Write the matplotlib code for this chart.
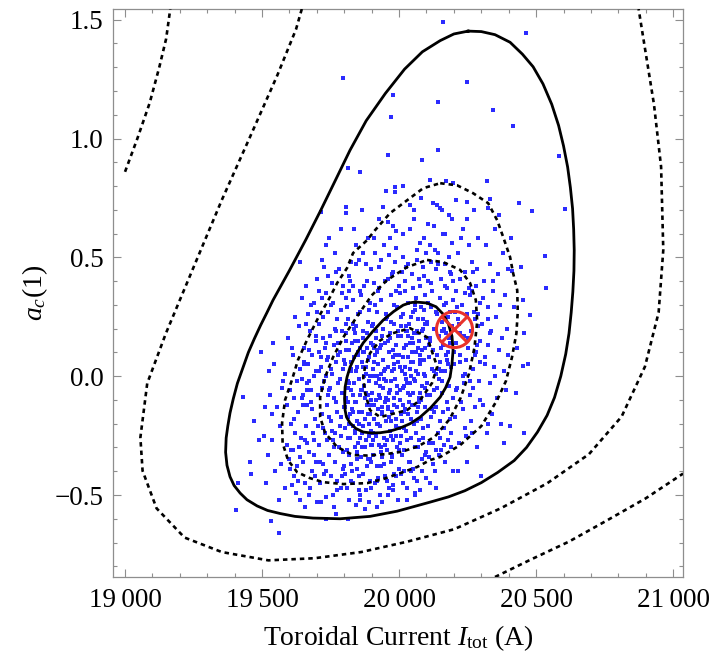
import matplotlib
matplotlib.use('Agg')
import matplotlib.pyplot as plt
from matplotlib.ticker import MultipleLocator, FuncFormatter

plt.rcParams['font.family'] = ['Liberation Serif', 'DejaVu Serif']
plt.rcParams['mathtext.fontset'] = 'custom'
plt.rcParams['mathtext.rm'] = 'Liberation Serif'
plt.rcParams['mathtext.it'] = 'Liberation Serif:italic'

# best fit point (toroidal current, a_c(1))
best_x = 20200
best_y = 0.2

# posterior samples
sample_x = [
    # 19400 - 19500
    19404, 19412, 19431, 19455, 19470, 19488, 19495, 19460,
    # 19500 - 19600
    19511, 19540, 19507, 19529, 19555, 19536, 19531, 19562, 19520, 19548,
    19572, 19585, 19590, 19577, 19566, 19598, 19515, 19583, 19545, 19594,
    19560, 19525, 19592, 19570, 19538,
    # 19600 - 19700
    19613, 19620, 19628, 19646, 19602, 19664, 19649, 19605, 19612, 19618,
    19624, 19631, 19637, 19642, 19648, 19653, 19657, 19661, 19667, 19672,
    19676, 19680, 19684, 19688, 19692, 19696, 19608, 19615, 19626, 19634,
    19640, 19651, 19659, 19663, 19670, 19674, 19682, 19686, 19690, 19698,
    19603, 19622, 19644, 19655, 19666, 19678, 19694, 19639, 19699, 19635,
    # 19700 - 19800
    19716, 19735, 19726, 19703, 19706, 19709, 19711, 19714, 19718, 19720,
    19722, 19725, 19728, 19730, 19733, 19736, 19738, 19741, 19743, 19745,
    19748, 19750, 19752, 19755, 19757, 19759, 19761, 19763, 19766, 19768,
    19770, 19772, 19775, 19777, 19779, 19781, 19784, 19786, 19788, 19790,
    19793, 19795, 19797, 19799, 19704, 19708, 19712, 19717, 19721, 19727,
    19732, 19737, 19742, 19746, 19751, 19756, 19760, 19765, 19769, 19774,
    19778, 19783, 19787, 19792, 19796, 19798, 19744, 19767, 19789, 19702,
    19762, 19734, 19794,
    # 19800 - 19900
    19807, 19807, 19813, 19801, 19803, 19804, 19806, 19808, 19810, 19811,
    19813, 19815, 19816, 19818, 19820, 19821, 19823, 19825, 19826, 19828,
    19830, 19831, 19833, 19835, 19836, 19838, 19840, 19841, 19843, 19845,
    19846, 19848, 19850, 19851, 19853, 19855, 19856, 19858, 19860, 19861,
    19863, 19865, 19866, 19868, 19870, 19871, 19873, 19875, 19876, 19878,
    19880, 19881, 19883, 19885, 19886, 19888, 19890, 19891, 19893, 19895,
    19896, 19898, 19899, 19802, 19805, 19809, 19812, 19817, 19819, 19822,
    19827, 19829, 19832, 19837, 19839, 19842, 19847, 19849, 19852, 19857,
    19859, 19862, 19867, 19869, 19872, 19874, 19877, 19879, 19882, 19884,
    19887, 19889, 19892, 19894, 19897, 19834, 19852, 19864, 19887, 19824,
    19812, 19844, 19892, 19857,
    # 19900 - 20000
    19977, 19969, 19984, 19985, 19901, 19902, 19904, 19905, 19907, 19908,
    19910, 19911, 19913, 19914, 19916, 19917, 19919, 19920, 19922, 19923,
    19925, 19926, 19928, 19929, 19931, 19932, 19934, 19935, 19937, 19938,
    19940, 19941, 19943, 19944, 19946, 19947, 19949, 19950, 19952, 19953,
    19955, 19956, 19958, 19959, 19961, 19962, 19964, 19965, 19967, 19968,
    19970, 19971, 19973, 19974, 19976, 19977, 19979, 19980, 19982, 19983,
    19985, 19986, 19988, 19989, 19991, 19992, 19994, 19995, 19997, 19998,
    19903, 19906, 19909, 19912, 19915, 19918, 19921, 19924, 19927, 19930,
    19933, 19936, 19939, 19942, 19945, 19948, 19951, 19954, 19957, 19960,
    19963, 19966, 19969, 19972, 19975, 19978, 19981, 19984, 19987, 19990,
    19993, 19996, 19999, 19911, 19928, 19953, 19964, 19990, 19923, 19979,
    19961,
    # 20000 - 20100
    20001, 20002, 20004, 20005, 20007, 20008, 20010, 20011, 20013, 20014,
    20016, 20017, 20019, 20020, 20022, 20023, 20025, 20026, 20028, 20029,
    20031, 20032, 20034, 20035, 20037, 20038, 20040, 20041, 20043, 20044,
    20046, 20047, 20049, 20050, 20052, 20053, 20055, 20056, 20058, 20059,
    20061, 20062, 20064, 20065, 20067, 20068, 20070, 20071, 20073, 20074,
    20076, 20077, 20079, 20080, 20082, 20083, 20085, 20086, 20088, 20089,
    20091, 20092, 20094, 20095, 20097, 20098, 20003, 20006, 20009, 20012,
    20015, 20018, 20021, 20024, 20027, 20030, 20033, 20036, 20039, 20042,
    20045, 20048, 20051, 20054, 20057, 20060, 20063, 20066, 20069, 20072,
    20075, 20078, 20081, 20084, 20087, 20090, 20093, 20096, 20099, 20058,
    20013,
    # 20100 - 20200
    20159, 20143, 20111, 20198, 20125, 20150, 20101, 20103, 20104, 20106,
    20108, 20109, 20111, 20113, 20114, 20116, 20118, 20119, 20121, 20123,
    20124, 20126, 20128, 20129, 20131, 20133, 20134, 20136, 20138, 20139,
    20141, 20143, 20144, 20146, 20148, 20149, 20151, 20153, 20154, 20156,
    20158, 20159, 20161, 20163, 20164, 20166, 20168, 20169, 20171, 20173,
    20174, 20176, 20178, 20179, 20181, 20183, 20184, 20186, 20188, 20189,
    20191, 20193, 20194, 20196, 20198, 20199, 20107, 20117, 20127, 20137,
    20147, 20157, 20167, 20177, 20187, 20197, 20112, 20142, 20172, 20192,
    20135,
    # 20200 - 20300
    20247, 20249, 20202, 20204, 20207, 20209, 20212, 20214, 20217, 20219,
    20222, 20224, 20227, 20229, 20232, 20234, 20237, 20239, 20242, 20244,
    20247, 20249, 20252, 20254, 20257, 20259, 20262, 20264, 20267, 20269,
    20272, 20274, 20277, 20279, 20282, 20284, 20287, 20289, 20292, 20294,
    20297, 20299, 20206, 20216, 20226, 20236, 20246, 20256, 20266, 20276,
    20286, 20296, 20211, 20241, 20271, 20221,
    # 20300 - 20400
    20342, 20332, 20325, 20302, 20305, 20309, 20312, 20316, 20319, 20323,
    20326, 20330, 20333, 20337, 20340, 20344, 20347, 20351, 20354, 20358,
    20361, 20365, 20368, 20372, 20375, 20379, 20382, 20386, 20389, 20393,
    20396, 20399, 20321, 20363, 20384,
    # above 20400
    20416, 20464, 20583, 20605, 20486, 20439, 20532, 20535, 20413, 20451,
    20478, 20456, 20452, 20405, 20456, 20430, 20420, 20445, 20410, 20470,
    20425,
    # dense core
    19812, 19826, 19838, 19851, 19863, 19877, 19889, 19902, 19914, 19927,
    19939, 19952, 19964, 19977, 19989, 20002, 20014, 20027, 20039, 20052,
    20064, 20077, 20089, 20102, 20114, 20127, 20139, 20152, 20164, 20177,
    19818, 19832, 19845, 19857, 19870, 19883, 19895, 19908, 19920, 19933,
    19945, 19958, 19971, 19983, 19996, 20008, 20021, 20033, 20046, 20058,
    20071, 20083, 20096, 20108, 20121, 20133, 20146, 20158, 20171, 20183,
    19855, 19868, 19881, 19893, 19906, 19918, 19931, 19943, 19956, 19968,
    19981, 19993, 20006, 20018, 20031, 20043, 20056, 20068, 20081, 20093,
    19873, 19897, 19921, 19946, 19970, 19994, 20019, 20043, 20067, 20091,
    19886, 19910, 19934, 19958, 19982, 20006, 20030, 20054, 20078, 20102,
    # lower left band
    19605, 19618, 19631, 19644, 19657, 19670, 19683, 19696, 19709, 19722,
    19735, 19748, 19761, 19774, 19787, 19800, 19813, 19826, 19839, 19611,
    19637, 19663, 19689, 19715, 19741, 19767, 19793, 19819, 19845, 19652,
    # lower middle band
    19852, 19866, 19879, 19893, 19906, 19920, 19933, 19947, 19960, 19974,
    19987, 20001, 20014, 20028, 20041, 20055, 20068, 20082, 20095, 20109,
    20122, 20136, 20149, 19859, 19899, 19939, 19979, 20019, 20059, 20099,
    # right band
    20152, 20161, 20170, 20179, 20188, 20197, 20206, 20215, 20224, 20233,
    20242, 20251, 20260, 20269, 20278, 20287, 20296, 20305, 20314, 20323,
    20332, 20341, 20350, 20165, 20205, 20245, 20285, 20325, 20185, 20265,
    # upper band
    19805, 19818, 19831, 19844, 19857, 19870, 19883, 19896, 19909, 19922,
    19935, 19948, 19961, 19974, 19987, 20000, 20013, 20026, 20039, 20052,
    20065, 20078, 20091, 20104, 20117, 20130, 20143, 20156, 20169, 20182,
    # left band
    19652, 19661, 19670, 19679, 19688, 19697, 19706, 19715, 19724, 19733,
    19742, 19751, 19760, 19769, 19778, 19787, 19796, 19805, 19814, 19823,
    19832, 19841, 19850, 19665, 19700, 19735, 19770, 19805, 19840, 19720,
]

sample_y = [
    # 19400 - 19500
    -0.565, -0.451, -0.088, -0.36, -0.19, -0.27, 0.10, -0.41,
    # 19500 - 19600
    -0.13, 0.14, -0.25, -0.08, -0.13, -0.16, -0.61, -0.66, -0.33, -0.40,
    -0.05, 0.01, -0.29, -0.02, -0.21, -0.35, -0.45, -0.47, 0.05, 0.16,
    -0.52, 0.02, -0.12, -0.37, -0.27,
    # 19600 - 19700
    0.09, 0.25, -0.02, -0.01, -0.06, -0.06, -0.08, -0.20, -0.31, -0.42,
    -0.49, -0.15, 0.03, -0.26, -0.36, 0.12, -0.45, -0.21, 0.05, -0.32,
    0.19, -0.11, -0.40, 0.31, -0.18, 0.02, 0.12, -0.09, -0.38, 0.21,
    -0.52, -0.12, 0.38, -0.28, -0.02, -0.47, 0.09, -0.24, -0.33, 0.15,
    -0.39, -0.24, 0.33, -0.55, 0.26, -0.06, -0.42, 0.48, -0.53, -0.30,
    # 19700 - 19800
    0.69, 0.55, 0.46, -0.08, 0.22, -0.29, -0.45, 0.04, -0.16, 0.33,
    -0.37, -0.02, 0.12, -0.24, -0.51, 0.07, -0.12, 0.27, -0.33, -0.06,
    0.17, -0.42, -0.19, 0.01, 0.39, -0.27, -0.09, 0.13, -0.36, -0.58,
    0.06, -0.15, 0.24, -0.03, -0.30, 0.45, -0.21, 0.10, -0.47, -0.07,
    0.19, -0.39, 0.03, -0.13, -0.21, 0.10, -0.36, -0.05, 0.16, -0.41,
    0.00, -0.27, 0.08, -0.17, 0.30, -0.23, -0.50, 0.20, -0.11, -0.44,
    0.14, -0.01, -0.25, 0.35, -0.32, 0.07, 0.58, 0.52, 0.62, 0.41,
    -0.55, -0.60, 1.255,
    # 19800 - 19900
    0.71, 0.685, 0.878, -0.22, 0.05, -0.41, 0.18, -0.09, -0.31, 0.29,
    -0.02, -0.17, -0.52, 0.11, -0.26, 0.40, -0.06, -0.37, 0.02, -0.14,
    0.22, -0.45, -0.21, 0.08, -0.03, -0.30, 0.15, 0.55, -0.11, -0.39,
    0.04, -0.19, 0.26, -0.28, -0.01, -0.48, 0.12, -0.08, -0.34, 0.34,
    -0.15, 0.06, -0.24, 0.19, -0.41, -0.04, 0.10, -0.18, -0.56, 0.47,
    -0.27, 0.01, -0.12, 0.23, -0.35, 0.07, -0.20, -0.02, 0.31, -0.44,
    -0.10, 0.14, -0.29, -0.13, 0.11, -0.47, -0.05, 0.36, -0.33, -0.16,
    0.14, -0.40, -0.08, 0.20, -0.23, 0.02, -0.32, 0.09, -0.15, 0.27,
    -0.50, -0.06, 0.16, -0.21, 0.38, -0.30, -0.09, 0.04, -0.38, 0.12,
    -0.16, 0.28, -0.25, 0.00, -0.36, 0.62, 0.49, 0.70, 0.58, 0.48,
    -0.60, -0.54, -0.53, 0.86,
    # 19900 - 20000
    1.183, 1.092, 0.797, 0.773, -0.07, 0.21, -0.33, 0.03, -0.18, 0.39,
    -0.12, -0.45, 0.09, -0.25, 0.16, -0.03, -0.38, 0.27, -0.14, 0.05,
    -0.29, 0.46, -0.08, 0.12, -0.21, -0.50, 0.01, 0.32, -0.16, -0.34,
    0.07, -0.05, 0.20, -0.26, 0.55, -0.11, -0.42, 0.14, -0.02, -0.19,
    0.25, -0.31, 0.04, 0.41, -0.13, -0.47, 0.10, -0.23, 0.18, -0.06,
    0.34, -0.36, 0.02, -0.15, 0.63, -0.27, 0.08, -0.09, 0.22, -0.41,
    -0.01, 0.48, -0.18, 0.13, -0.30, 0.29, -0.04, -0.52, 0.06, -0.22,
    0.13, -0.24, 0.00, 0.30, -0.10, -0.55, 0.11, -0.20, 0.37, -0.04,
    -0.32, 0.17, -0.13, 0.71, -0.37, 0.03, 0.24, -0.09, -0.44, 0.15,
    -0.17, 0.58, -0.02, 0.23, -0.33, 0.44, -0.12, 0.09, -0.25, 0.36,
    -0.07, 0.19, -0.39, 0.52, 0.66, 0.78, 0.51, 0.61, -0.43, -0.48,
    0.93,
    # 20000 - 20100
    0.09, -0.28, 0.35, -0.10, 0.17, -0.41, 0.02, -0.19, 0.26, -0.05,
    0.50, -0.31, 0.12, -0.14, 0.04, 0.40, -0.23, 0.19, -0.47, -0.03,
    0.31, -0.16, 0.08, -0.36, 0.22, 0.62, -0.08, 0.14, -0.26, 0.00,
    0.43, -0.12, 0.27, -0.39, 0.06, -0.20, 0.18, 0.70, -0.02, -0.30,
    0.33, 0.10, -0.15, 0.53, -0.44, 0.01, 0.24, -0.09, 0.15, -0.27,
    0.38, 0.05, -0.18, 0.29, -0.35, 0.11, -0.04, 0.46, 0.20, -0.22,
    0.07, 0.58, -0.13, 0.34, -0.32, 0.16, -0.06, 0.21, 0.44, -0.33,
    0.08, -0.22, 0.36, -0.01, 0.13, -0.52, 0.47, -0.11, 0.03, 0.25,
    -0.40, 0.16, -0.07, 0.66, 0.30, -0.24, 0.02, 0.19, -0.13, 0.41,
    -0.48, 0.09, 0.75, 0.911, -0.26, 0.28, -0.05, 0.12, 0.52, -0.50,
    0.80,
    # 20100 - 20200
    1.491, 1.155, 0.827, 0.811, 0.727, 0.706, -0.03, 0.22, -0.21, 0.40,
    0.08, -0.34, 0.15, 0.55, -0.08, 0.29, -0.17, 0.03, 0.36, -0.28,
    0.11, 0.63, -0.06, 0.20, -0.40, 0.45, 0.01, -0.13, 0.26, 0.09,
    -0.24, 0.52, 0.17, -0.01, 0.33, -0.19, 0.06, 0.41, -0.31, 0.23,
    -0.07, 0.60, 0.13, -0.22, 0.30, 0.02, -0.36, 0.47, 0.18, -0.11,
    0.37, 0.07, -0.27, 0.25, 0.68, -0.04, 0.14, -0.18, 0.43, 0.04,
    -0.30, 0.21, 0.56, -0.09, 0.32, 0.10, 0.31, 0.48, -0.15, 0.72,
    -0.33, 0.19, 0.60, -0.14, 0.27, -0.40, -0.45, 0.95, 0.82, 0.66,
    -0.47,
    # 20200 - 20300
    1.237, 0.734, 0.05, -0.17, 0.36, 0.14, -0.05, 0.52, 0.22, -0.28,
    0.09, 0.41, -0.11, 0.30, 0.00, 0.62, 0.17, -0.22, 0.44, 0.07,
    -0.36, 0.26, 0.12, 0.55, -0.08, 0.34, 0.19, -0.19, 0.48, 0.03,
    0.27, 0.70, -0.13, 0.38, 0.10, -0.30, 0.21, 0.58, -0.02, 0.31,
    0.15, -0.42, 0.74, -0.40, 0.58, -0.03, 0.66, 0.37, -0.24, 0.24,
    0.45, 0.06, 0.29, 0.01, -0.05, 0.18,
    # 20300 - 20400
    1.120, 0.745, 0.706, 0.22, -0.12, 0.40, 0.08, 0.55, -0.24, 0.29,
    0.13, -0.03, 0.47, 0.19, -0.16, 0.36, 0.04, 0.62, 0.25, -0.09,
    0.43, 0.11, 0.30, -0.20, 0.16, 0.52, 0.02, 0.34, -0.06, 0.20,
    0.45, 0.09, 0.82, 0.68, -0.28,
    # above 20400
    1.051, 1.442, 0.925, 0.702, 0.697, 0.727, 0.504, 0.373, 0.443, 0.320,
    0.259, 0.180, 0.043, -0.209, -0.241, 0.12, 0.29, 0.46, 0.58, 0.05,
    -0.07,
    # dense core
    -0.11, 0.03, -0.24, 0.15, -0.06, -0.18, 0.08, -0.29, 0.19, -0.01,
    -0.15, 0.26, -0.07, 0.11, -0.21, 0.04, -0.12, 0.21, -0.03, 0.14,
    -0.19, 0.07, 0.24, -0.08, 0.16, 0.02, -0.05, 0.12, 0.20, 0.05,
    -0.03, -0.15, 0.09, -0.26, 0.04, 0.18, -0.12, 0.06, -0.20, 0.13,
    0.02, -0.10, -0.25, 0.05, 0.17, -0.16, 0.01, -0.07, 0.10, 0.28,
    -0.11, 0.19, 0.00, 0.13, -0.14, 0.27, 0.03, -0.02, 0.09, 0.16,
    -0.20, 0.10, -0.07, -0.16, 0.22, 0.00, -0.09, 0.07, -0.27, 0.16,
    0.03, -0.13, 0.25, -0.04, 0.17, -0.18, -0.01, 0.12, -0.10, 0.22,
    0.00, -0.23, 0.10, -0.01, -0.19, 0.09, -0.15, 0.06, 0.18, 0.01,
    -0.08, 0.12, -0.30, -0.14, 0.30, -0.25, 0.19, -0.12, -0.07, 0.23,
    # lower left band
    -0.31, -0.18, -0.44, -0.09, -0.27, -0.50, -0.14, -0.36, 0.02, -0.22,
    -0.40, -0.05, -0.30, -0.48, -0.17, -0.38, -0.26, -0.44, -0.11, -0.46,
    -0.34, -0.12, -0.27, -0.53, -0.08, -0.24, -0.42, -0.20, -0.35, 0.06,
    # lower middle band
    -0.42, -0.30, -0.48, -0.35, -0.27, -0.44, -0.38, -0.29, -0.50, -0.34,
    -0.42, -0.31, -0.45, -0.27, -0.36, -0.43, -0.30, -0.40, -0.33, -0.28,
    -0.37, -0.31, -0.26, -0.52, -0.47, -0.53, -0.46, -0.40, -0.49, -0.43,
    # right band
    0.02, -0.15, 0.31, 0.10, -0.24, 0.40, -0.06, 0.24, 0.06, -0.14,
    0.35, 0.16, -0.02, 0.44, 0.09, 0.26, -0.10, 0.33, 0.05, -0.20,
    0.18, 0.40, 0.00, -0.29, 0.27, -0.25, 0.13, 0.24, 0.44, 0.36,
    # upper band
    0.33, 0.42, 0.38, 0.47, 0.36, 0.52, 0.40, 0.45, 0.58, 0.36,
    0.49, 0.40, 0.65, 0.43, 0.54, 0.38, 0.60, 0.46, 0.72, 0.37,
    0.49, 0.56, 0.42, 0.64, 0.39, 0.53, 0.47, 0.70, 0.38, 0.50,
    # left band
    0.05, 0.22, 0.11, 0.30, 0.00, 0.17, 0.36, 0.08, 0.25, 0.14,
    0.42, 0.03, 0.31, 0.19, 0.09, 0.28, 0.38, 0.15, 0.24, 0.06,
    0.32, 0.21, 0.10, -0.03, 0.27, 0.35, 0.44, 0.22, 0.18, 0.49,
]

# solid contours
inner_solid_x = [20060, 20102, 20135, 20160, 20180, 20193, 20197, 20193, 20186, 20170,
                 20150, 20115, 20077, 20040, 20004, 19965, 19931, 19898, 19869, 19842,
                 19821, 19808, 19803, 19801, 19803, 19810, 19821, 19842, 19869, 19905,
                 19942, 19980, 20015, 20040, 20060]
inner_solid_y = [0.312, 0.308, 0.292, 0.262, 0.220, 0.168, 0.110, 0.052, -0.004, -0.048,
                 -0.088, -0.133, -0.172, -0.200, -0.218, -0.232, -0.238, -0.239, -0.235, -0.220,
                 -0.197, -0.172, -0.143, -0.095, -0.046, -0.004, 0.038, 0.090, 0.140, 0.190,
                 0.236, 0.272, 0.299, 0.309, 0.312]

outer_solid_x = [20252, 20300, 20350, 20405, 20450, 20489, 20525, 20557, 20582, 20600,
                 20615, 20625, 20633, 20637, 20639, 20638, 20634, 20628, 20620, 20608,
                 20590, 20567, 20540, 20505, 20465, 20420, 20360, 20300, 20240, 20180,
                 20113, 20050, 19993, 19894, 19785, 19686, 19620, 19566, 19520, 19482,
                 19445, 19420, 19398, 19383, 19372, 19367, 19369, 19375, 19383, 19395,
                 19410, 19430, 19450, 19472, 19495, 19518, 19540, 19600, 19660, 19715,
                 19770, 19821, 19880, 19950, 20020, 20085, 20150, 20200, 20252]
outer_solid_y = [1.452, 1.450, 1.437, 1.405, 1.355, 1.302, 1.230, 1.144, 1.055, 0.969,
                 0.880, 0.794, 0.705, 0.618, 0.530, 0.443, 0.355, 0.268, 0.180, 0.093,
                 0.000, -0.090, -0.165, -0.235, -0.300, -0.355, -0.405, -0.448, -0.482, -0.508,
                 -0.530, -0.550, -0.568, -0.590, -0.600, -0.597, -0.590, -0.578, -0.565, -0.546,
                 -0.520, -0.492, -0.460, -0.423, -0.375, -0.320, -0.260, -0.210, -0.155, -0.095,
                 -0.030, 0.035, 0.100, 0.158, 0.215, 0.268, 0.320, 0.445, 0.575, 0.700,
                 0.830, 0.951, 1.075, 1.190, 1.292, 1.365, 1.412, 1.440, 1.452]

# dashed contours
core_dash_x = [19978, 20040, 20102, 20139, 20120, 20077, 20029, 19931, 19894, 19876,
               19869, 19876, 19894, 19930, 19978]
core_dash_y = [0.181, 0.202, 0.164, 0.040, -0.029, -0.100, -0.143, -0.172, -0.143, -0.071,
               -0.004, 0.040, 0.097, 0.150, 0.181]

mid_dash_x = [20102, 20161, 20223, 20259, 20280, 20285, 20275, 20255, 20225, 20185,
              20130, 20070, 20010, 19950, 19885, 19832, 19774, 19730, 19712, 19712,
              19730, 19759, 19800, 19850, 19900, 19956, 20029, 20102]
mid_dash_y = [0.489, 0.480, 0.447, 0.392, 0.320, 0.230, 0.120, 0.010, -0.090, -0.180,
              -0.255, -0.295, -0.318, -0.328, -0.334, -0.332, -0.298, -0.239, -0.172, -0.088,
              -0.004, 0.080, 0.170, 0.257, 0.340, 0.404, 0.459, 0.489]

outer_dash_x = [20150, 20212, 20270, 20325, 20358, 20380, 20405, 20416, 20431, 20433,
                20428, 20412, 20390, 20358, 20300, 20223, 20150, 20113, 20066, 20004,
                19942, 19883, 19796, 19723, 19675, 19628, 19595, 19575, 19573, 19584,
                19609, 19631, 19664, 19704, 19748, 19774, 19810, 19832, 19883, 19912,
                19967, 20029, 20088, 20150]
outer_dash_y = [0.812, 0.803, 0.770, 0.728, 0.656, 0.585, 0.501, 0.434, 0.362, 0.270,
                0.180, 0.080, -0.020, -0.100, -0.210, -0.290, -0.340, -0.353, -0.382, -0.408,
                -0.433, -0.450, -0.454, -0.446, -0.429, -0.404, -0.354, -0.282, -0.197, -0.100,
                -0.016, 0.068, 0.152, 0.244, 0.333, 0.392, 0.455, 0.518, 0.572, 0.614,
                0.686, 0.740, 0.791, 0.812]

wide_dash_x = [19645, 19624, 19556, 19455, 19353, 19251, 19149, 19081, 19056, 19064,
               19115, 19217, 19353, 19523, 19692, 19862, 20031, 20201, 20371, 20540,
               20693, 20812, 20897, 20947, 20964, 20956, 20930, 20874]
wide_dash_y = [1.545, 1.460, 1.267, 1.004, 0.741, 0.461, 0.180, -0.030, -0.258, -0.398,
               -0.556, -0.679, -0.740, -0.775, -0.766, -0.740, -0.696, -0.644, -0.556, -0.451,
               -0.328, -0.170, 0.040, 0.268, 0.531, 0.881, 1.144, 1.545]

corner_dash_x = [19000, 19045, 19090, 19125, 19150, 19165]
corner_dash_y = [0.86, 1.00, 1.15, 1.30, 1.42, 1.545]

low_dash_x = [20350, 20480, 20620, 20760, 20900, 21036]
low_dash_y = [-0.845, -0.772, -0.696, -0.606, -0.514, -0.410]

fig = plt.figure(figsize=(7.27, 6.53), dpi=100)
ax = fig.add_axes([0.1554, 0.1164, 0.7841, 0.8698])

ax.plot(sample_x, sample_y, linestyle='none', marker='s', markersize=2.9,
        markeredgewidth=0, color='#2b2bff', zorder=2)

solid_kw = dict(color='black', lw=2.0, zorder=3, solid_joinstyle='round')
ax.plot(inner_solid_x, inner_solid_y, **solid_kw)
ax.plot(outer_solid_x, outer_solid_y, **solid_kw)

dash_kw = dict(color='black', lw=1.9, dashes=(1.7, 1.5), zorder=3)
for xs, ys in [(core_dash_x, core_dash_y), (mid_dash_x, mid_dash_y),
               (outer_dash_x, outer_dash_y), (wide_dash_x, wide_dash_y),
               (corner_dash_x, corner_dash_y), (low_dash_x, low_dash_y)]:
    ax.plot(xs, ys, **dash_kw)

# best fit marker
ax.plot(best_x, best_y, marker='o', markersize=26, markerfacecolor='none',
        markeredgecolor='#e8322c', markeredgewidth=2.2, zorder=5)
ax.plot(best_x, best_y, marker='x', markersize=19, markeredgecolor='#e8322c',
        markeredgewidth=2.2, zorder=5)

ax.set_xlim(18956, 21036)
ax.set_ylim(-0.845, 1.545)

ax.xaxis.set_major_locator(MultipleLocator(500))
ax.xaxis.set_minor_locator(MultipleLocator(100))
ax.yaxis.set_major_locator(MultipleLocator(0.5))
ax.yaxis.set_minor_locator(MultipleLocator(0.1))
ax.xaxis.set_major_formatter(FuncFormatter(lambda v, p: f"{int(round(v)):,}".replace(',', '\u2009')))
ax.yaxis.set_major_formatter(FuncFormatter(lambda v, p: f"{v:.1f}".replace('-', '\u2212')))

frame = '#8e8e8e'
for s in ax.spines.values():
    s.set_color(frame)
    s.set_linewidth(0.9)
ax.tick_params(which='both', direction='in', top=True, right=True, color=frame,
               width=0.8, labelsize=19.5, labelcolor='black')
ax.tick_params(which='major', length=6)
ax.tick_params(which='minor', length=3)
ax.tick_params(axis='x', pad=8)
ax.tick_params(axis='y', pad=7)

ax.set_xlabel('Toroidal Current $I_{\\mathrm{tot}}$ (A)', fontsize=20, labelpad=7)
ax.set_ylabel('$a_c$(1)', fontsize=20, labelpad=3)

fig.savefig('out.png', dpi=100)
